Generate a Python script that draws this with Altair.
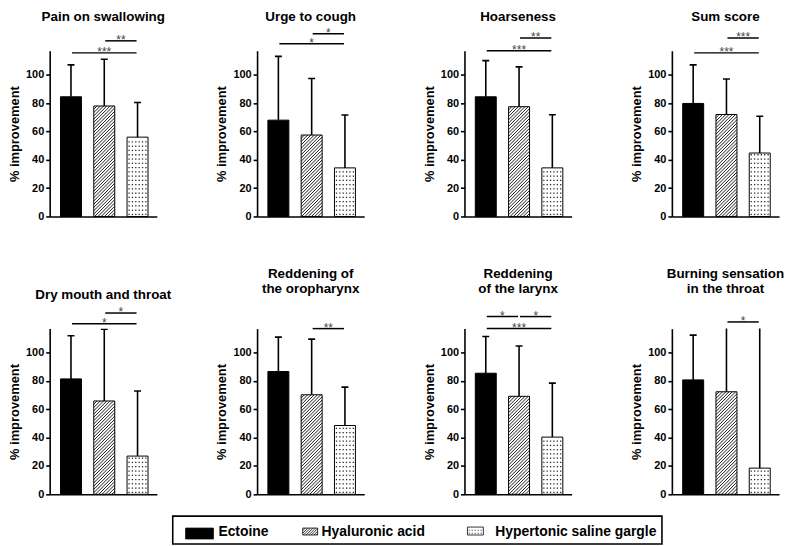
import altair as alt
import numpy as np
import pandas as pd

# ---------------- data ----------------
panel_titles = [
    ["Pain on swallowing"], ["Urge to cough"], ["Hoarseness"], ["Sum score"],
    ["Dry mouth and throat"], ["Reddening of", "the oropharynx"],
    ["Reddening", "of the larynx"], ["Burning sensation", "in the throat"],
]
groups = ["Ectoine", "Hyaluronic acid", "Hypertonic saline gargle"]

ectoine_mean = [84.5, 68.0, 84.5, 79.8, 81.5, 86.7, 85.5, 80.8]
ectoine_sd = [22.5, 45.0, 25.5, 27.2, 30.5, 24.3, 25.9, 31.6]
hyaluronic_mean = [78.0, 57.5, 77.5, 72.0, 65.9, 70.3, 69.2, 72.4]
hyaluronic_sd = [33.0, 39.9, 28.1, 25.0, 50.7, 39.3, 35.5, 55.0]
saline_mean = [56.0, 34.3, 34.3, 44.8, 27.0, 48.6, 40.4, 18.5]
saline_sd = [24.5, 37.3, 37.5, 25.9, 45.9, 27.1, 38.1, 110.0]

# significance brackets
sig_panel = [0, 0, 1, 1, 2, 2, 3, 3, 4, 4, 5, 6, 6, 6, 7]
sig_from = [0, 1, 0, 1, 0, 1, 0, 1, 0, 1, 1, 0, 0, 1, 1]
sig_to = [2, 2, 2, 2, 2, 2, 2, 2, 2, 2, 2, 2, 1, 2, 2]
sig_level = [115.5, 124, 122, 129, 117, 126, 115.5, 126, 120.5, 128, 117, 117, 125.5, 125.5, 121.7]
sig_label = ["***", "**", "*", "*", "***", "**", "***", "***", "*", "*", "**", "***", "*", "*", "*"]

y_ticks = [0, 20, 40, 60, 80, 100]

# ---------------- layout constants ----------------
W, H = 108, 167
Y_MAX = 117
X_MAX = 3.22
C0 = 0.64
HALF = 0.315
SX = W / X_MAX
SY = H / Y_MAX
CAP_PX = 3.5
ANCHOR = Y_MAX + 27 / SY
FONT = "Liberation Sans"

means = [ectoine_mean, hyaluronic_mean, saline_mean]
sds = [ectoine_sd, hyaluronic_sd, saline_sd]

fill_scale = alt.Scale(domain=groups, range=["black", "white", "white"])
x_scale = alt.Scale(domain=[0, X_MAX], nice=False, zero=False)
y_scale = alt.Scale(domain=[0, Y_MAX], nice=False, zero=True)
x_axis = alt.Axis(title=None, labels=False, ticks=False, grid=False,
                  domainColor="black", domainWidth=1.6)
y_axis = alt.Axis(title="% improvement", values=y_ticks, grid=False,
                  domainColor="black", domainWidth=1.6, tickColor="black",
                  tickWidth=1.6, tickSize=4, labelFontSize=11, labelFontWeight="bold",
                  labelColor="black", labelPadding=2, titleFontSize=13,
                  titleFontWeight="bold", titleColor="black", titlePadding=4)


def X(f):
    return alt.X(f, type="quantitative", scale=x_scale, axis=x_axis)


def Y(f):
    return alt.Y(f, type="quantitative", scale=y_scale, axis=y_axis)


def hatch_segments(w, h, period=3.3):
    segs = []
    for c in np.arange(-h, w, period):
        xs, xe = max(0.0, c), min(w, h + c)
        if xe - xs > 0.2:
            segs.append((xs, xs - c, xe, xe - c))
    return segs


def dot_grid(w, h, dx=3.4, dy=4.3, m=2.0):
    pts = []
    for yy in np.arange(m, h - 1.0, dy):
        for xx in np.arange(m, w - 1.0, dx):
            pts.append((xx, yy))
    return pts


def panel(p, title_offset):
    bars = []
    for k, g in enumerate(groups):
        m = means[k][p]
        top = m + sds[k][p]
        xc = C0 + k
        bars.append(dict(group=g, x1=xc - HALF, x2=xc + HALF, xc=xc, mean=m, base=0.0,
                         top=top, c1=xc - CAP_PX / SX, c2=xc + CAP_PX / SX))
    bars = pd.DataFrame(bars)

    hb = bars.iloc[1]
    wpx = (hb.x2 - hb.x1) * SX
    hpx = hb["mean"] * SY
    hatch = pd.DataFrame([dict(hx1=hb.x1 + a / SX, hy1=b / SY, hx2=hb.x1 + c / SX, hy2=d / SY)
                          for a, b, c, d in hatch_segments(wpx, hpx)])
    sb = bars.iloc[2]
    dots = pd.DataFrame([dict(dx=sb.x1 + a / SX, dy=b / SY)
                         for a, b in dot_grid((sb.x2 - sb.x1) * SX, sb["mean"] * SY)])

    br = []
    for i in range(len(sig_panel)):
        if sig_panel[i] != p:
            continue
        a, b = C0 + sig_from[i], C0 + sig_to[i]
        br.append(dict(b1=a + 1 / SX, b2=b - 1 / SX, bm=(a + b) / 2,
                       level=sig_level[i], label=sig_label[i]))
    br = pd.DataFrame(br)

    anchor = alt.Chart(pd.DataFrame({"anchor": [ANCHOR]})).mark_rule(opacity=0).encode(
        y=Y("anchor"))
    bar_layer = alt.Chart(bars).mark_rect(stroke="black", strokeWidth=1).encode(
        x=X("x1"), x2="x2", y=Y("mean"), y2="base",
        fill=alt.Fill("group:N", scale=fill_scale, legend=None))
    hatch_layer = alt.Chart(hatch).mark_rule(color="black", strokeWidth=0.9).encode(
        x=X("hx1"), x2="hx2", y=Y("hy1"), y2="hy2")
    dot_layer = alt.Chart(dots).mark_square(size=1.6, color="#222", opacity=1).encode(
        x=X("dx"), y=Y("dy"))
    err_layer = alt.Chart(bars).mark_rule(color="black", strokeWidth=1.6, clip=True).encode(
        x=X("xc"), y=Y("mean"), y2="top")
    cap_layer = alt.Chart(bars).mark_rule(color="black", strokeWidth=1.6, clip=True).encode(
        x=X("c1"), x2="c2", y=Y("top"))
    br_layer = alt.Chart(br).mark_rule(color="black", strokeWidth=1.5).encode(
        x=X("b1"), x2="b2", y=Y("level"))
    star_layer = alt.Chart(br).mark_text(fontSize=12, color="#444", baseline="alphabetic",
                                         dy=3, font=FONT).encode(
        x=X("bm"), y=Y("level"), text="label")

    return alt.layer(anchor, bar_layer, hatch_layer, dot_layer, err_layer, cap_layer,
                     br_layer, star_layer).properties(
        width=W, height=H,
        title=alt.TitleParams(text=panel_titles[p], fontSize=13.5, fontWeight="bold",
                              anchor="middle", frame="group", offset=title_offset,
                              lineHeight=15, color="black", font=FONT))


offsets = [0, 0, 0, 0, 0, 6, 6, 6]
row1 = alt.hconcat(*[panel(i, offsets[i]) for i in range(4)], spacing=101, bounds="flush")
row2 = alt.hconcat(*[panel(i, offsets[i]) for i in range(4, 8)], spacing=101, bounds="flush")
grid = alt.vconcat(row1, row2, spacing=46)

# ---------------- custom legend ----------------
LW, LH = 3 * 209 + W, 28
lx_scale = alt.Scale(domain=[0, LW], nice=False, zero=False)
ly_scale = alt.Scale(domain=[0, LH], nice=False, zero=False)
sw_x1 = [137, 255, 421]
sw_x2 = [165, 270, 437]
sw_y1 = [12, 12, 11]
sw_y2 = [23, 19, 19]
txt_x = [170, 274, 449]


def LX(f):
    return alt.X(f, type="quantitative", scale=lx_scale, axis=None)


def LY(f):
    return alt.Y(f, type="quantitative", scale=ly_scale, axis=None)


box = alt.Chart(pd.DataFrame({"a": [124], "b": [617], "c": [0], "d": [LH]})).mark_rect(
    fill="white", stroke="black", strokeWidth=1.6).encode(x=LX("a"), x2="b", y=LY("c"), y2="d")
sw = pd.DataFrame(dict(group=groups, sx1=sw_x1, sx2=sw_x2,
                       sy1=[LH - v for v in sw_y2], sy2=[LH - v for v in sw_y1]))
sw_layer = alt.Chart(sw).mark_rect(stroke="black", strokeWidth=0.8).encode(
    x=LX("sx1"), x2="sx2", y=LY("sy1"), y2="sy2",
    fill=alt.Fill("group:N", scale=fill_scale, legend=None))
hb0 = LH - sw_y2[1]
lh = pd.DataFrame([dict(hx1=sw_x1[1] + a, hy1=hb0 + b, hx2=sw_x1[1] + c, hy2=hb0 + d)
                   for a, b, c, d in hatch_segments(sw_x2[1] - sw_x1[1], sw_y2[1] - sw_y1[1], 2.6)])
lh_layer = alt.Chart(lh).mark_rule(color="black", strokeWidth=0.8).encode(
    x=LX("hx1"), x2="hx2", y=LY("hy1"), y2="hy2")
db0 = LH - sw_y2[2]
ld = pd.DataFrame([dict(dx=sw_x1[2] + a, dy=db0 + b)
                   for a, b in dot_grid(sw_x2[2] - sw_x1[2], sw_y2[2] - sw_y1[2], 3.0, 3.0, 1.8)])
ld_layer = alt.Chart(ld).mark_square(size=1.2, color="#333", opacity=1).encode(
    x=LX("dx"), y=LY("dy"))
lt = pd.DataFrame(dict(label=groups, tx=txt_x, ty=[LH - 15.5] * 3))
lt_layer = alt.Chart(lt).mark_text(align="left", baseline="middle", fontSize=14,
                                   fontWeight="bold", color="black", font=FONT).encode(
    x=LX("tx"), y=LY("ty"), text="label")
legend = alt.layer(box, sw_layer, lh_layer, ld_layer, lt_layer).properties(width=LW, height=LH)

chart = alt.vconcat(grid, legend, spacing=16).properties(
    padding=0
).configure(font=FONT).configure_view(stroke=None)

chart.save("out.html", embed_options={"renderer": "svg", "actions": False})
